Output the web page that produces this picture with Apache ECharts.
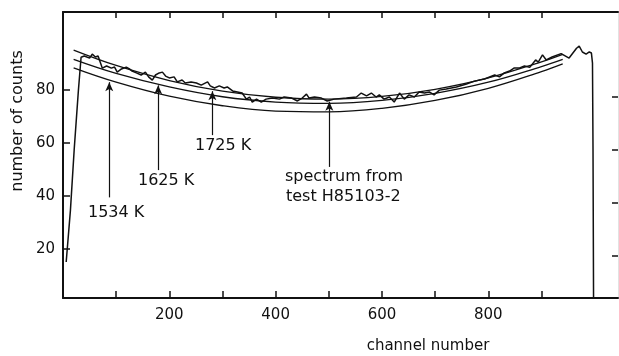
<!DOCTYPE html>
<html><head><meta charset="utf-8">
<script src="https://cdn.jsdelivr.net/npm/echarts@6/dist/echarts.min.js"></script>
<style>html,body{margin:0;padding:0;background:#fff}#c{width:619px;height:356px}</style>
</head><body><div id="c"></div>
<script>
// ---- data ----
const xTickValues = [100, 200, 300, 400, 500, 600, 700, 800, 900];
const xLabelValues = [200, 400, 600, 800];
const yLabelValues = [20, 40, 60, 80];
const rightTickValues = [17.5, 37.5, 57.5, 77.5];

const curve1725 = [[20,95.1],[100,89.3],[200,83.6],[300,79.6],[400,77.3],[500,76.6],[600,77.6],[700,80.3],[800,84.6],[900,90.7],[940,93.5]];
const curve1625 = [[20,91.6],[100,86.3],[200,81.2],[300,77.5],[400,75.5],[500,75.0],[600,76.1],[700,78.8],[800,83.0],[900,88.9],[940,91.6]];
const curve1534 = [[20,88.4],[100,83.0],[200,77.7],[300,74.1],[400,72.1],[500,71.8],[600,73.1],[700,76.1],[800,80.7],[900,87.0],[940,89.9]];

const spectrum = [
 [6,15.1],[14,34.7],[21,57.4],[29,80.0],[34,92.4],[40,92.9],[50,92.1],[55,93.6],[61,92.5],[66,92.9],
 [74,88.3],[82,89.1],[91,88.3],[97,88.7],[102,86.8],[110,88.0],[119,88.7],[125,88.0],[130,87.2],[138,86.5],
 [147,85.7],[155,86.8],[161,85.0],[168,83.8],[174,85.7],[181,86.5],[187,86.8],[193,85.3],[200,84.6],[209,85.0],
 [215,83.1],[224,83.8],[230,82.7],[241,83.1],[251,82.7],[260,81.9],[272,83.1],[277,81.6],[285,80.8],[294,81.6],
 [303,80.8],[309,81.2],[319,79.7],[328,79.3],[337,78.9],[345,76.6],[351,77.4],[356,75.5],[364,76.6],[373,75.5],
 [382,76.6],[394,77.0],[407,76.6],[416,77.4],[430,77.0],[441,75.9],[450,77.0],[458,78.5],[463,77.0],[473,77.4],
 [486,77.0],[497,75.9],[510,76.6],[533,77.0],[552,77.4],[561,78.9],[571,77.8],[580,78.9],[589,77.4],[595,78.2],
 [604,76.6],[614,77.4],[623,75.5],[633,78.9],[642,76.6],[651,78.2],[661,77.4],[670,79.3],[680,78.9],[689,79.3],
 [698,78.2],[708,80.0],[721,80.4],[740,81.2],[759,82.3],[774,83.4],[793,84.2],[812,85.7],[821,85.0],[830,86.5],
 [840,87.2],[849,88.4],[859,88.4],[868,89.1],[878,88.6],[889,91.4],[894,90.6],[902,93.3],[909,91.4],[920,92.5],
 [937,93.8],[952,92.1],[966,95.8],[971,96.6],[977,94.4],[984,93.6],[990,94.4],[994,94.0],[996,90.2],
 [997,57.4],[998,1.5]
];

// annotation arrows in data coordinates: [channel, from, to]
const arrows = [[87, 39.5, 83.0], [179, 49.8, 81.8], [281, 63.0, 79.6], [501, 51.0, 75.6]];

// ---- chart ----
const FONT = 'DejaVu Sans';
const INK = '#111';
const chart = echarts.init(document.getElementById('c'), null, {renderer: 'canvas'});

function lineSeries(data, extra) {
  return Object.assign({
    type: 'line', data: data, showSymbol: false, symbol: 'none', silent: true,
    lineStyle: {color: INK, width: 1.4}, animation: false, clip: false
  }, extra || {});
}

chart.setOption({
  animation: false,
  backgroundColor: '#fff',
  textStyle: {fontFamily: FONT, color: INK},
  grid: {left: 63, width: 555, top: 12, height: 286, containLabel: false},
  xAxis: [{
    type: 'value', min: 0, max: 1044, position: 'bottom',
    axisLine: {show: true, onZero: false, lineStyle: {color: INK, width: 2}},
    axisTick: {show: true, inside: true, length: 7, customValues: xTickValues, lineStyle: {color: INK, width: 1.5}},
    axisLabel: {show: true, customValues: xLabelValues, margin: 10, fontSize: 15, fontFamily: FONT, color: INK},
    splitLine: {show: false}
  }, {
    type: 'value', min: 0, max: 1044, position: 'top',
    axisLine: {show: true, onZero: false, lineStyle: {color: INK, width: 2}},
    axisTick: {show: true, inside: true, length: 6, customValues: xTickValues, lineStyle: {color: INK, width: 1.5}},
    axisLabel: {show: false},
    splitLine: {show: false}
  }],
  yAxis: [{
    type: 'value', min: 1.5, max: 109.5, position: 'left',
    axisLine: {show: true, onZero: false, lineStyle: {color: INK, width: 2}},
    axisTick: {show: true, inside: true, length: 7, customValues: yLabelValues, lineStyle: {color: INK, width: 1.5}},
    axisLabel: {show: true, customValues: yLabelValues, margin: 8, fontSize: 15, fontFamily: FONT, color: INK},
    splitLine: {show: false}
  }, {
    type: 'value', min: 1.5, max: 109.5, position: 'right',
    axisLine: {show: true, onZero: false, lineStyle: {color: '#e2e2e2', width: 1}},
    axisTick: {show: true, inside: true, length: 6, customValues: rightTickValues, lineStyle: {color: INK, width: 1.5}},
    axisLabel: {show: false},
    splitLine: {show: false}
  }],
  series: [
    lineSeries(curve1534, {smooth: 0.4, lineStyle: {color: INK, width: 1.3}}),
    lineSeries(curve1625, {smooth: 0.4, lineStyle: {color: INK, width: 1.3}}),
    lineSeries(curve1725, {smooth: 0.4, lineStyle: {color: INK, width: 1.3}}),
    lineSeries(spectrum, {
      lineStyle: {color: INK, width: 1.5},
      markLine: {
        silent: true, animation: false,
        symbol: ['none', 'arrow'], symbolSize: [6, 9],
        label: {show: false},
        lineStyle: {color: INK, width: 1.2, type: 'solid'},
        data: arrows.map(a => [{coord: [a[0], a[1]]}, {coord: [a[0], a[2]]}])
      }
    })
  ],
  graphic: [
    {type: 'text', x: 88, y: 213, style: {text: '1534 K', font: '16px "DejaVu Sans"', fill: INK, verticalAlign: 'middle'}},
    {type: 'text', x: 138, y: 181, style: {text: '1625 K', font: '16px "DejaVu Sans"', fill: INK, verticalAlign: 'middle'}},
    {type: 'text', x: 195, y: 146, style: {text: '1725 K', font: '16px "DejaVu Sans"', fill: INK, verticalAlign: 'middle'}},
    {type: 'text', x: 285, y: 177, style: {text: 'spectrum from', font: '16px "DejaVu Sans"', fill: INK, verticalAlign: 'middle'}},
    {type: 'text', x: 286, y: 197, style: {text: 'test H85103-2', font: '16px "DejaVu Sans"', fill: INK, verticalAlign: 'middle'}},
    {type: 'text', x: 428, y: 346, style: {text: 'channel number', font: '15px "DejaVu Sans"', fill: INK, align: 'center', verticalAlign: 'middle'}},
    {type: 'text', x: 18, y: 121, rotation: Math.PI / 2, style: {text: 'number of counts', font: '16px "DejaVu Sans"', fill: INK, align: 'center', verticalAlign: 'middle'}}
  ]
});
</script>
</body></html>
